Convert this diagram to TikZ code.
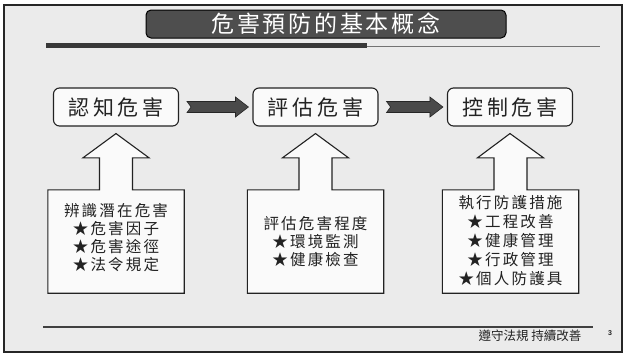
\documentclass[tikz,border=0pt]{standalone}
\usepackage{fontspec}
\setmainfont{Liberation Sans}
\newfontfamily\cjk{Noto Sans CJK TC}
\newfontfamily\cjktop[LetterSpace=18]{Noto Sans CJK TC}
\newfontfamily\cjktitle[LetterSpace=12]{Noto Sans CJK TC}
\newfontfamily\cjkbox[LetterSpace=14]{Noto Sans CJK TC}
\usetikzlibrary{calc}
\definecolor{bgcol}{HTML}{EBEBEB}
\definecolor{boxfill}{HTML}{FAFAFA}
\definecolor{titlefill}{HTML}{4E4E4E}
\definecolor{arrowfill}{HTML}{4A4A4A}
\definecolor{ink}{HTML}{222222}
\newcommand\rightblock[2]{%
  \path ($(#1.east)+(8,0)$) coordinate (s) ($(#2.west)+(-4,0)$) coordinate (e);
  \draw[rarrow] ($(s)+(0,-5.5)$) -- ($(e)+(-13,-5.5)$) -- ($(e)+(-13,-10)$) -- (e)
    -- ($(e)+(-13,10)$) -- ($(e)+(-13,5.5)$) -- ($(s)+(0,5.5)$) -- ($(s)+(4,0)$) -- cycle;}
\newcommand\upblock[2]{%
  \draw[upshape] (#1.south west) -- (#1.north west) -- ($(#1.north)+(-16.5,0)$)
    -- ($(#1.north)+(-16.5,-32)$) -- ($(#1.north)+(-33,-32)$) -- ($(#2.south)+(0,7)$)
    -- ($(#1.north)+(33,-32)$) -- ($(#1.north)+(16.5,-32)$) -- ($(#1.north)+(16.5,0)$)
    -- (#1.north east) -- (#1.south east) -- cycle;}
\begin{document}
\begin{tikzpicture}[x=1pt,y=-1pt,
  topbox/.style={draw=ink, line width=1.1pt, rounded corners=6pt, fill=boxfill,
    minimum width=125pt, minimum height=38pt, inner sep=0pt, text=ink,
    font=\cjktop\fontsize{21}{21}\selectfont},
  lowbox/.style={minimum width=136pt, minimum height=103pt, inner sep=0pt},
  lowtext/.style={align=center, inner sep=0pt, text=ink,
    font=\cjkbox\fontsize{15.5}{18}\selectfont},
  upshape/.style={draw=ink, line width=1.1pt, fill=boxfill, line join=miter},
  rarrow/.style={draw=black!85, line width=0.6pt, fill=arrowfill},
  titlebox/.style={draw=black, line width=1pt, fill=titlefill, rounded corners=5pt,
    minimum width=360pt, minimum height=28pt, inner sep=0pt, text=white,
    font=\cjktitle\fontsize{23}{23}\selectfont}]
\useasboundingbox (0,0) rectangle (627,354);
\fill[white] (0,0) rectangle (627,354);
\fill[bgcol] (4,5) rectangle (622,352);
\draw[black!85, line width=1.5pt] (4,5) rectangle (622,352);

% title
\node[titlebox] (title) at (326,24) {危害預防的基本概念};
\fill[black!78] (46,43) rectangle (367,48);
\draw[black!55, line width=1.1pt] (367,46.5) -- (600,46.5);

% top nodes
\node[topbox] (n1) at (116,107) {認知危害};
\node[topbox] (n2) at (315.5,107) {評估危害};
\node[topbox] (n3) at (510,107) {控制危害};

\rightblock{n1}{n2}
\rightblock{n2}{n3}

% lower boxes with up arrows
\node[lowbox] (b1) at (116,241.5) {};
\node[lowbox] (b2) at (315.5,241.5) {};
\node[lowbox] (b3) at (510.5,241.5) {};
\upblock{b1}{n1}
\upblock{b2}{n2}
\upblock{b3}{n3}

\node[lowtext] (t1) at (116,238) {辨識潛在危害\\★危害因子\\★危害途徑\\★法令規定};
\node[lowtext] (t2) at (315.5,241.5) {評估危害程度\\★環境監測\\★健康檢查};
\node[lowtext, font=\cjkbox\fontsize{15.5}{18.8}\selectfont] (t3) at (510.5,240.5) {執行防護措施\\★工程改善\\★健康管理\\★行政管理\\★個人防護具};

% footer
\draw[black!75, line width=1.8pt] (43,327) -- (593,327);
\node[font=\cjk\fontsize{12.5}{12.5}\selectfont, text=ink, inner sep=0pt] (foot) at (530,336) {遵守法規\ 持續改善};
\node[font=\bfseries\fontsize{7}{7}\selectfont, text=ink, inner sep=0pt] (pg) at (610,333) {3};
\end{tikzpicture}
\end{document}
